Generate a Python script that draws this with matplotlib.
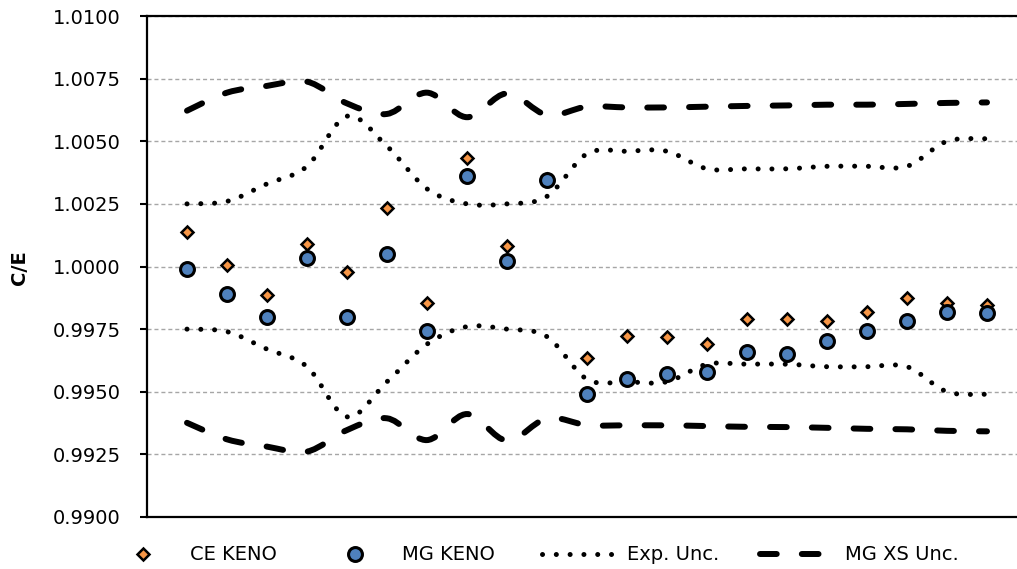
import numpy as np
import matplotlib
matplotlib.use("Agg")
import matplotlib.pyplot as plt
from matplotlib.path import Path
from matplotlib.patches import PathPatch
from matplotlib.lines import Line2D

# ---------------- data ----------------
case = list(range(1, 22))
ce_keno = [1.00139, 1.00006, 0.99886, 1.00090, 0.99979, 1.00235, 0.99855, 1.00434,
           1.00082, 1.00350, 0.99636, 0.99724, 0.99717, 0.99689, 0.99789, 0.99789,
           0.99782, 0.99817, 0.99875, 0.99855, 0.99845]
mg_keno = [0.99989, 0.99890, 0.99800, 1.00035, 0.99800, 1.00049, 0.99744, 1.00361,
           1.00022, 1.00345, 0.99490, 0.99551, 0.99570, 0.99578, 0.99660, 0.99649,
           0.99704, 0.99744, 0.99782, 0.99817, 0.99813]
exp_hi = [1.0025, 1.0026, 1.0033, 1.0040, 1.0060, 1.0048, 1.0031, 1.0025, 1.0025,
          1.0028, 1.0045, 1.0046, 1.0046, 1.0039, 1.0039, 1.0039, 1.0040, 1.0040,
          1.0040, 1.0050, 1.0051]
exp_lo = [0.9975, 0.9974, 0.9967, 0.9960, 0.9940, 0.9954, 0.9969, 0.9976, 0.9975,
          0.9972, 0.9955, 0.9954, 0.9954, 0.9961, 0.9961, 0.9961, 0.9960, 0.9960,
          0.9960, 0.9950, 0.9949]
xs_hi = [1.00622, 1.00694, 1.00721, 1.00738, 1.00651, 1.00609, 1.00694, 1.00596,
         1.00691, 1.00605, 1.00638, 1.00635, 1.00635, 1.00638, 1.00641, 1.00643,
         1.00646, 1.00646, 1.00649, 1.00653, 1.00655]
xs_lo = [0.99376, 0.99310, 0.99281, 0.99261, 0.99347, 0.99394, 0.99307, 0.99411,
         0.99305, 0.99394, 0.99367, 0.99366, 0.99366, 0.99363, 0.99360, 0.99359,
         0.99356, 0.99352, 0.99350, 0.99344, 0.99342]
yticks = [0.9900, 0.9925, 0.9950, 0.9975, 1.0000, 1.0025, 1.0050, 1.0075, 1.0100]
labels = ["CE KENO", "MG KENO", "Exp. Unc.", "MG XS Unc."]

ORANGE = "#F79646"
BLUE = "#4F81BD"
plt.rcParams["font.family"] = ["DejaVu Sans"]


def smooth_path(xs, ys):
    x = np.asarray(xs, float)
    y = np.asarray(ys, float)
    n = len(x)
    verts = [(x[0], y[0])]
    codes = [Path.MOVETO]
    for i in range(n - 1):
        x0, y0 = (x[i - 1], y[i - 1]) if i > 0 else (x[i], y[i])
        x3, y3 = (x[i + 2], y[i + 2]) if i + 2 < n else (x[i + 1], y[i + 1])
        c1 = (x[i] + (x[i + 1] - x0) / 6.0, y[i] + (y[i + 1] - y0) / 6.0)
        c2 = (x[i + 1] - (x3 - x[i]) / 6.0, y[i + 1] - (y3 - y[i]) / 6.0)
        verts += [c1, c2, (x[i + 1], y[i + 1])]
        codes += [Path.CURVE4] * 3
    return Path(verts, codes)


W, H = 1017, 569
fig = plt.figure(figsize=(W / 100, H / 100), dpi=100)
ax = fig.add_axes([147 / W, 1 - 517 / H, 1 - 147 / W, 501 / H])

DOT_LW = 3.6
DOT = (0, (0.01, 2.75))
DASH_LW = 4.3
DASH = (0, (2.8, 4.2))

for series in (exp_hi, exp_lo):
    ax.add_patch(PathPatch(smooth_path(case, series), fill=False, edgecolor="black",
                           lw=DOT_LW, linestyle=DOT, capstyle="round", zorder=3))
for series in (xs_hi, xs_lo):
    ax.add_patch(PathPatch(smooth_path(case, series), fill=False, edgecolor="black",
                           lw=DASH_LW, linestyle=DASH, capstyle="round", zorder=3))

ax.plot(case, ce_keno, ls="none", marker="D", ms=6.2, mfc=ORANGE, mec="black",
        mew=1.8, zorder=4)
ax.plot(case, mg_keno, ls="none", marker="o", ms=10, mfc=BLUE, mec="black",
        mew=2.2, zorder=5)

ax.set_xlim(0, 21.75)
ax.set_ylim(0.99, 1.01)
ax.set_yticks(yticks)
ax.set_yticklabels([f"{v:.4f}" for v in yticks])
ax.set_xticks([])
ax.grid(axis="y", color="#A6A6A6", lw=1.0, linestyle=(0, (2.9, 2.1)), zorder=1)
ax.set_axisbelow(True)
for s in ("left", "top", "bottom"):
    ax.spines[s].set_linewidth(1.6)
    ax.spines[s].set_color("black")
ax.spines["right"].set_visible(False)
ax.tick_params(axis="y", direction="out", length=5, width=1.5, pad=14,
               labelsize=14, colors="black")

fig.text(20 / W, 1 - 268 / H, "C/E", rotation=90, ha="center", va="center",
         fontsize=14, fontweight="bold")

# legend: one entry per legend box, placed along the bottom
handles = [
    Line2D([], [], ls="none", marker="D", ms=6.2, mfc=ORANGE, mec="black", mew=1.8),
    Line2D([], [], ls="none", marker="o", ms=10, mfc=BLUE, mec="black", mew=2.2),
    Line2D([], [], color="black", lw=DOT_LW, linestyle=DOT, dash_capstyle="round"),
    Line2D([], [], color="black", lw=DASH_LW, linestyle=DASH, dash_capstyle="round"),
]
starts = [105, 317, 542, 760]
for h, lab, xs in zip(handles, labels, starts):
    fig.legend([h], [lab], loc="center left",
               bbox_to_anchor=(xs / W, 1 - 555 / H), frameon=False,
               borderpad=0, borderaxespad=0, handlelength=3.9,
               handletextpad=0.45, fontsize=14)

fig.savefig("out.png", dpi=100)
